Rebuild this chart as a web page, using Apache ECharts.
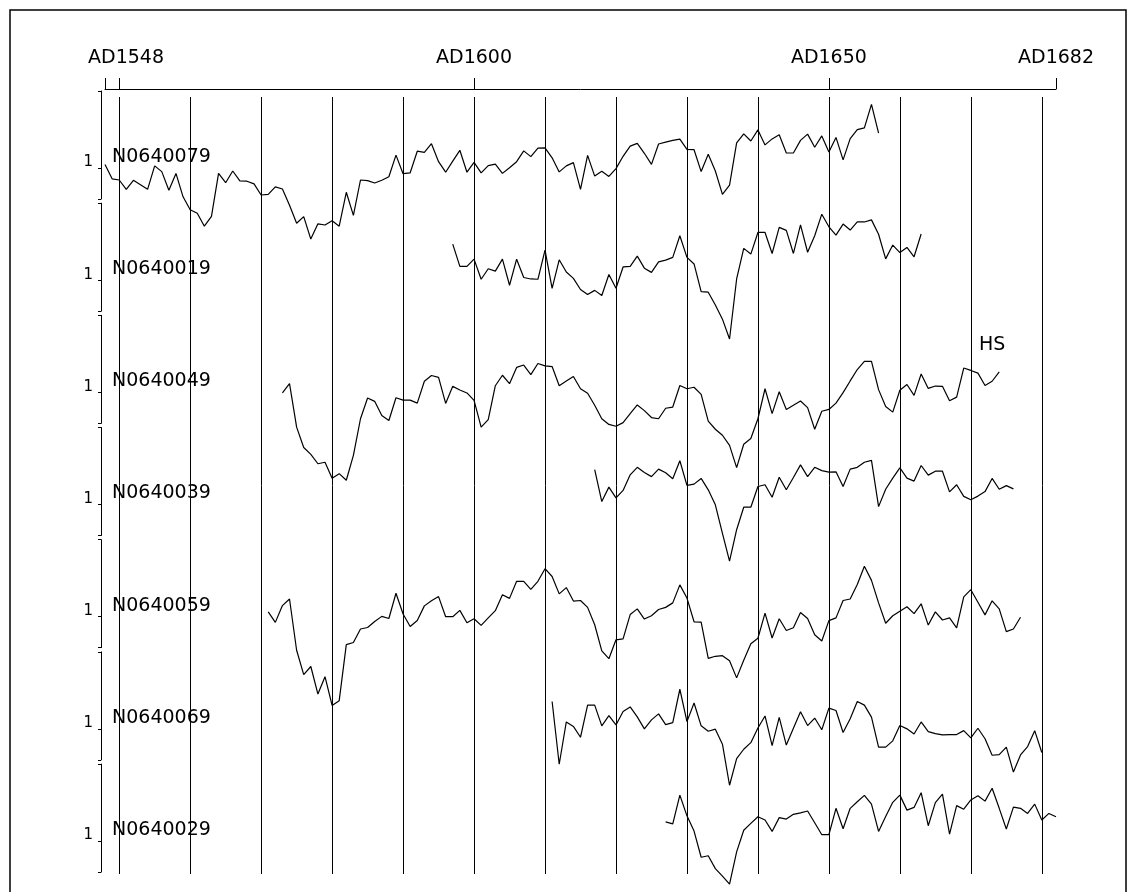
<!DOCTYPE html>
<html>
<head>
<meta charset="utf-8">
<script src="https://cdn.jsdelivr.net/npm/echarts@6/dist/echarts.min.js"></script>
<style>
html,body{margin:0;padding:0;background:#fff;}
#chart{width:1128px;height:892px;}
</style>
</head>
<body>
<div id="chart"></div>
<script>
// ---- data ----
const seriesNames = ['N0640079','N0640019','N0640049','N0640039','N0640059','N0640069','N0640029'];
const startYears  = [1548, 1597, 1573, 1617, 1571, 1611, 1627];

const s079 = [
 1.12,0.64,0.60,0.29,0.59,0.44,0.29,1.07,0.88,0.26,
 0.82,0.04,-0.39,-0.51,-0.94,-0.61,0.82,0.51,0.90,0.57,
 0.56,0.47,0.10,0.12,0.37,0.30,-0.24,-0.84,-0.62,-1.37,
 -0.86,-0.90,-0.76,-0.94,0.19,-0.58,0.60,0.58,0.50,0.59,
 0.71,1.43,0.81,0.84,1.56,1.52,1.81,1.21,0.86,1.23,
 1.59,0.86,1.19,0.84,1.08,1.13,0.82,1.01,1.21,1.57,
 1.38,1.66,1.67,1.34,0.87,1.07,1.18,0.29,1.42,0.73,
 0.89,0.72,0.98,1.39,1.73,1.82,1.49,1.12,1.80,1.86,
 1.92,1.96,1.62,1.61,0.88,1.46,0.90,0.12,0.43,1.84,
 2.14,1.90,2.27,1.77,1.97,2.11,1.50,1.50,1.92,2.13,
 1.69,2.07,1.53,2.02,1.27,1.98,2.28,2.34,3.12,2.16
];
const s019 = [
 2.20,1.46,1.46,1.70,1.03,1.38,1.30,1.70,0.83,1.70,
 1.09,1.04,1.03,2.00,0.73,1.68,1.27,1.06,0.69,0.52,
 0.66,0.49,1.19,0.73,1.44,1.46,1.80,1.40,1.26,1.61,
 1.67,1.76,2.48,1.76,1.54,0.62,0.60,0.17,-0.30,-0.96,
 1.04,2.06,1.87,2.59,2.59,1.89,2.76,2.66,1.89,2.84,
 1.93,2.48,3.20,2.78,2.50,2.87,2.67,2.94,2.94,3.01,
 2.53,1.71,2.17,1.92,2.09,1.78,2.54
];
const s049 = [
 0.98,1.29,-0.16,-0.84,-1.07,-1.38,-1.33,-1.86,-1.71,-1.93,
 -1.10,0.12,0.81,0.70,0.23,0.06,0.82,0.74,0.74,0.64,
 1.37,1.56,1.50,0.63,1.20,1.08,0.98,0.73,-0.16,0.09,
 1.22,1.57,1.29,1.83,1.91,1.59,1.96,1.88,1.86,1.22,
 1.38,1.53,1.12,0.97,0.57,0.12,-0.07,-0.13,-0.01,0.29,
 0.58,0.39,0.16,0.12,0.47,0.51,1.23,1.12,1.17,0.93,
 0.04,-0.23,-0.43,-0.77,-1.51,-0.73,-0.54,0.12,1.12,0.29,
 1.02,0.43,0.57,0.71,0.49,-0.23,0.37,0.43,0.64,0.99,
 1.38,1.76,2.03,2.03,1.09,0.53,0.34,1.07,1.26,0.90,
 1.61,1.13,1.21,1.20,0.72,0.84,1.81,1.73,1.64,1.23,
 1.37,1.68
];
const s039 = [
 2.16,1.10,1.58,1.22,1.47,1.99,2.24,2.07,1.93,2.18,
 2.06,1.86,2.46,1.64,1.68,1.87,1.49,0.99,0.04,-0.89,
 0.16,0.91,0.91,1.60,1.66,1.24,1.91,1.49,1.90,2.32,
 1.93,2.24,2.13,2.08,2.09,1.60,2.18,2.24,2.41,2.47,
 0.93,1.51,1.88,2.22,1.88,1.78,2.30,1.98,2.11,2.11,
 1.42,1.66,1.27,1.16,1.28,1.43,1.87,1.51,1.63,1.52
];
const s059 = [
 1.16,0.81,1.37,1.59,-0.12,-0.93,-0.66,-1.58,-1.00,-1.96,
 -1.80,0.07,0.14,0.59,0.64,0.84,1.01,0.94,1.78,1.09,
 0.67,0.87,1.36,1.53,1.67,1.00,1.00,1.21,0.80,0.93,
 0.71,0.96,1.20,1.73,1.61,2.18,2.18,1.91,2.18,2.60,
 2.34,1.76,1.97,1.52,1.54,1.31,0.73,-0.14,-0.40,0.23,
 0.26,1.07,1.26,0.92,1.03,1.24,1.31,1.46,2.06,1.62,
 0.83,0.82,-0.39,-0.32,-0.30,-0.47,-1.04,-0.45,0.10,0.28,
 1.12,0.29,0.93,0.54,0.63,1.14,0.94,0.40,0.19,0.87,
 0.96,1.54,1.59,2.07,2.68,2.21,1.46,0.78,1.03,1.18,
 1.33,1.10,1.43,0.72,1.16,0.89,0.96,0.63,1.66,1.90,
 1.48,1.06,1.53,1.26,0.50,0.59,0.98
];
const s069 = [
 1.91,-0.18,1.23,1.08,0.72,1.79,1.79,1.10,1.44,1.13,
 1.58,1.73,1.40,1.00,1.30,1.50,1.14,1.21,2.32,1.24,
 1.86,1.10,0.92,0.99,0.49,-0.88,0.01,0.32,0.54,1.03,
 1.43,0.44,1.38,0.46,1.02,1.57,1.11,1.36,0.97,1.69,
 1.61,0.88,1.34,1.91,1.79,1.39,0.39,0.39,0.60,1.11,
 1.00,0.83,1.23,0.91,0.84,0.80,0.81,0.81,0.94,0.70,
 1.02,0.67,0.12,0.14,0.39,-0.44,0.13,0.41,0.94,0.21
];
const s029 = [
 1.64,1.57,2.53,1.84,1.33,0.46,0.51,0.08,-0.17,-0.44,
 0.64,1.36,1.59,1.81,1.70,1.32,1.78,1.73,1.89,1.94,
 2.00,1.61,1.21,1.21,2.09,1.41,2.09,2.31,2.52,2.23,
 1.32,1.82,2.29,2.53,2.03,2.12,2.61,1.51,2.28,2.56,
 1.23,2.18,2.06,2.37,2.51,2.33,2.76,2.09,1.40,2.13,
 2.09,1.92,2.23,1.70,1.92,1.81
];
const allValues = [s079, s019, s049, s039, s059, s069, s029];

const decadeLines = [1550,1560,1570,1580,1590,1600,1610,1620,1630,1640,1650,1660,1670,1680];
const topTicks = [1548,1550,1600,1650,1682];
const topLabels = [1548,1600,1650,1682];
const hsNote = { text: 'HS', year: 1673, value: 2.57, band: 2 };

// ---- layout ----
const X_MIN = 1548, X_MAX = 1682;
const LEFT = 105, RIGHT = 72;
const BAND_TOP0 = 91, BAND_STEP = 112.17, BAND_H = 108;
const Y_MIN = -1/30, Y_MAX = -1/30 + 3.6;
const FONT = 'DejaVu Sans';

const chart = echarts.init(document.getElementById('chart'), null, {renderer:'canvas'});

const grids = [{left:LEFT, right:RIGHT, top:97, height:777}];
const xAxes = [{
  gridIndex:0, type:'value', position:'top', offset:8, min:X_MIN, max:X_MAX,
  axisLine:{show:true, onZero:false, lineStyle:{color:'#000', width:1}},
  axisTick:{show:true, inside:false, length:11, customValues:topTicks, lineStyle:{color:'#000', width:1}},
  axisLabel:{
    show:true, customValues:topLabels, margin:21, fontSize:19, fontFamily:FONT, color:'#000',
    formatter: v => (v === X_MIN ? '{p|AD' + v + '}' : 'AD' + v),
    rich:{p:{padding:[0,0,0,42], fontSize:19, fontFamily:FONT, color:'#000'}}
  },
  splitLine:{show:false}
}];
const yAxes = [{gridIndex:0, type:'value', min:0, max:1, show:false}];
const series = [{
  type:'line', xAxisIndex:0, yAxisIndex:0, data:[[X_MIN,0.5],[X_MAX,0.5]],
  showSymbol:false, lineStyle:{opacity:0}, silent:true,
  markLine:{
    silent:true, symbol:['none','none'], label:{show:false},
    lineStyle:{color:'#000', width:1, type:'solid'},
    emphasis:{disabled:true},
    data: decadeLines.map(d => ({xAxis:d}))
  }
}];
const graphics = [{
  type:'rect', shape:{x:10, y:10, width:1116, height:900},
  style:{fill:'none', stroke:'#000', lineWidth:1.5}, silent:true
}];

seriesNames.forEach((name, i) => {
  const top = BAND_TOP0 + i*BAND_STEP;
  const gi = i + 1;
  grids.push({left:LEFT, right:RIGHT, top:top, height:BAND_H});
  xAxes.push({gridIndex:gi, type:'value', min:X_MIN, max:X_MAX, show:false});
  yAxes.push({
    gridIndex:gi, type:'value', position:'left', offset:4, min:Y_MIN, max:Y_MAX,
    axisLine:{show:true, onZero:false, lineStyle:{color:'#000', width:1}},
    axisTick:{show:true, inside:false, length:3, customValues:[Y_MIN,1,Y_MAX], lineStyle:{color:'#000', width:1}},
    axisLabel:{show:true, customValues:[1], margin:8, fontSize:15, fontFamily:FONT, color:'#000',
      formatter: v => '{a|' + Math.round(v) + '}',
      rich:{a:{fontSize:15, fontFamily:FONT, color:'#000', padding:[0,0,11,0]}}},
    splitLine:{show:false}
  });
  const vals = allValues[i];
  const s = {
    type:'line', name:name, xAxisIndex:gi, yAxisIndex:gi,
    data: vals.map((v, k) => [startYears[i] + k, v]),
    showSymbol:false, clip:false, silent:true,
    lineStyle:{color:'#000', width:1.2}
  };
  if (hsNote.band === i) {
    s.markPoint = {
      silent:true, symbol:'circle', symbolSize:1, itemStyle:{color:'rgba(0,0,0,0)'},
      label:{show:true, position:'inside', formatter:hsNote.text, fontSize:19, fontFamily:FONT, color:'#000'},
      data:[{coord:[hsNote.year, hsNote.value]}]
    };
  }
  series.push(s);
  graphics.push({
    type:'text', x:112, y: top + 77 - 11, silent:true,
    style:{text:name, fontSize:19, fontFamily:FONT, fill:'#000', verticalAlign:'middle', align:'left'}
  });
});

chart.setOption({
  animation:false,
  backgroundColor:'#fff',
  grid:grids, xAxis:xAxes, yAxis:yAxes, series:series, graphic:graphics
});
</script>
</body>
</html>
